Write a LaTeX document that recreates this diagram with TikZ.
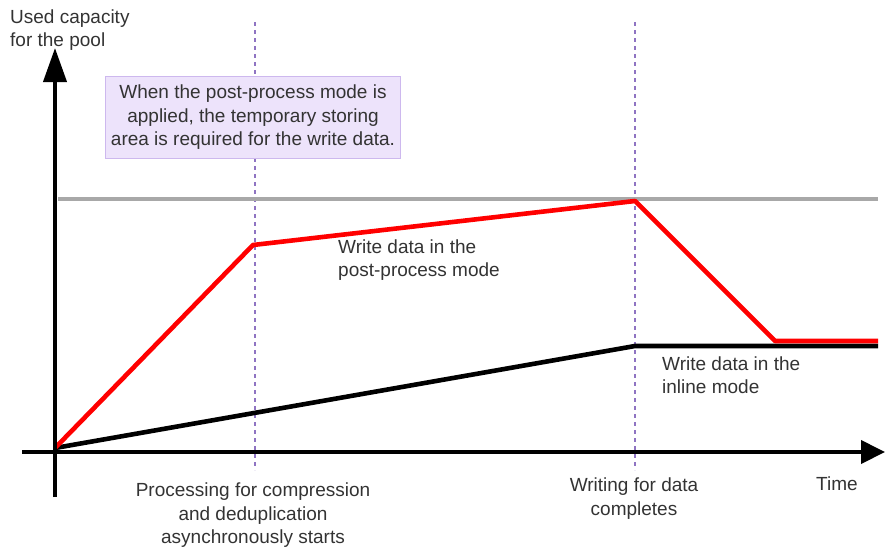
\documentclass[tikz,border=0pt]{standalone}
\usepackage{fontspec}
\setmainfont{Liberation Sans}
\usetikzlibrary{arrows.meta}
\definecolor{txt}{HTML}{333333}
\definecolor{guide}{HTML}{8F74C2}
\definecolor{notefill}{HTML}{EDE3FB}
\definecolor{noteedge}{HTML}{CDB8EE}
\definecolor{limitgray}{HTML}{A8A8A8}
\tikzset{
  axis/.style={line width=4pt},
  guideline/.style={guide, line width=1.4pt, dash pattern=on 4pt off 4pt},
  curve/.style={line width=4.6pt, line join=round},
  label/.style={text=txt, font=\fontsize{19}{23.5}\selectfont, inner sep=0pt, align=left},
  clabel/.style={label, align=center},
}
\begin{document}
\begin{tikzpicture}[x=1pt,y=-1pt]
\useasboundingbox (0,0) rectangle (885,547);

% time-line guides
\coordinate (g1t) at (255,22);  \coordinate (g1b) at (255,470);
\coordinate (g2t) at (635,22);  \coordinate (g2b) at (635,470);
\draw[guideline] (g1t) -- (g1b);
\draw[guideline] (g2t) -- (g2b);

% pool capacity limit
\coordinate (lim0) at (58,199); \coordinate (lim1) at (878,199);
\draw[limitgray, line width=4pt] (lim0) -- (lim1);

% note box
\node[label, align=center, fill=notefill, draw=noteedge, line width=1pt,
      minimum width=295pt, minimum height=82pt, anchor=north west]
  (note) at (105,76) {When the post-process mode is\\applied, the temporary storing\\area is required for the write data.};

% data curves
\coordinate (o) at (55,448);
\coordinate (r1) at (253,245);
\coordinate (r2) at (635,201);
\coordinate (r3) at (775,341);
\coordinate (r4) at (878,341);
\coordinate (b1) at (635,346);
\coordinate (b2) at (878,346);
\draw[curve, black] (o) -- (b1) -- (b2);
\draw[curve, red] (o) -- (r1) -- (r2) -- (r3) -- (r4);

% axes
\coordinate (ya) at (55,497); \coordinate (yb) at (55,48);
\coordinate (xa) at (22,452); \coordinate (xb) at (885,452);
\draw[axis, -{Triangle[length=34pt,width=23pt]}] (ya) -- (yb);
\draw[axis, -{Triangle[length=24pt,width=23pt]}] (xa) -- (xb);

% texts
\node[label, anchor=west] (ylab) at (10,30) {Used capacity\\for the pool};
\node[label, anchor=west] (tlab) at (816,484) {Time};
\node[label, anchor=west] (post) at (338,260) {Write data in the\\post-process mode};
\node[label, anchor=west] (inl) at (662,375) {Write data in the\\inline mode};
\node[clabel, anchor=north] (proc) at (253,483) {Processing for compression\\and deduplication\\asynchronously starts};
\node[clabel, anchor=north] (done) at (634,478) {Writing for data\\completes};
\end{tikzpicture}
\end{document}
